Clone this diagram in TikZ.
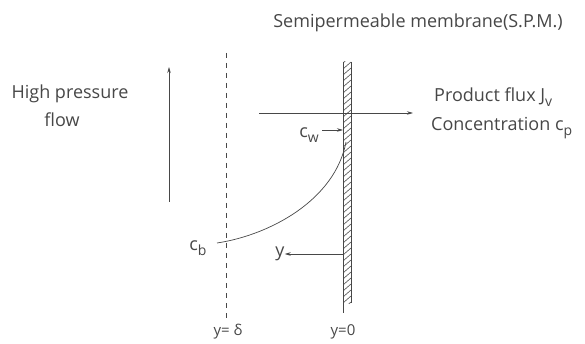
\documentclass[tikz,border=0pt]{standalone}
\usepackage{fontspec}
\setmainfont{Open Sans}
\usetikzlibrary{arrows.meta}
\definecolor{tinta}{gray}{0.28}
\newcommand{\bajo}[1]{\raisebox{-0.45ex}{\fontsize{14}{16}\selectfont #1}}
\tikzset{
  linea/.style={draw=tinta, line width=0.7pt},
  flecha/.style={linea, -{Stealth[length=6pt,width=3.5pt]}},
  etiqueta/.style={text=tinta, font=\fontsize{18}{21}\selectfont, inner sep=0pt},
  etiquetachica/.style={etiqueta, font=\fontsize{15}{18}\selectfont},
}
\begin{document}
\begin{tikzpicture}[x=1pt, y=-1pt]
    \useasboundingbox (0,0) rectangle (585,344);
    % Membrana
    \begin{scope}
        \clip (343,62) rectangle (351,303);
        \foreach \h in {56,62,...,310}
            \draw[linea, line width=0.6pt] (343,\h+7) -- (351,\h);
    \end{scope}
    \draw[linea] (343,62) -- (343,313);
    \draw[linea] (351,62) -- (351,303);
    \coordinate (mw) at (343,130);
    \coordinate (m0) at (343,254);
    \coordinate (mc) at (346,142);
    % Capa limite
    \draw[linea, dash pattern=on 5pt off 5pt] (226,53) -- (226,322);
    \coordinate (cbp) at (217,243);
    % Textos
    \node[etiqueta] (titulo) at (418,23) {Semipermeable membrane(S.P.M.)};
    \node[etiqueta] (alta) at (70,94) {High pressure};
    \node[etiqueta] (flujo) at (62,120) {flow};
    \node[etiqueta, anchor=west] (producto) at (434,97) {Product flux J\bajo{v}};
    \node[etiqueta, anchor=west] (concentracion) at (431,128) {Concentration c\bajo{p}};
    \node[etiqueta, anchor=east] (cw) at (319,135) {c\bajo{w}};
    \node[etiqueta] (cb) at (198,248) {c\bajo{b}};
    \node[etiqueta] (ylabel) at (280,254) {y};
    \node[etiquetachica] (ydelta) at (228,332) {y= δ};
    \node[etiquetachica] (ycero) at (343,332) {y=0};
    % Flechas
    \coordinate (subeA) at (169,202);
    \coordinate (subeB) at (169,67);
    \draw[flecha] (subeA) -- (subeB);
    \coordinate (fluxA) at (259,113);
    \coordinate (fluxB) at (413,113);
    \draw[flecha] (fluxA) -- (fluxB);
    \draw[flecha] (322,130) -- (mw);
    \draw[flecha] (m0) -- (ylabel.east);
    % Perfil de concentracion
    \draw[linea] (cbp) .. controls (270,235) and (335,200) .. (mc);
\end{tikzpicture}
\end{document}
